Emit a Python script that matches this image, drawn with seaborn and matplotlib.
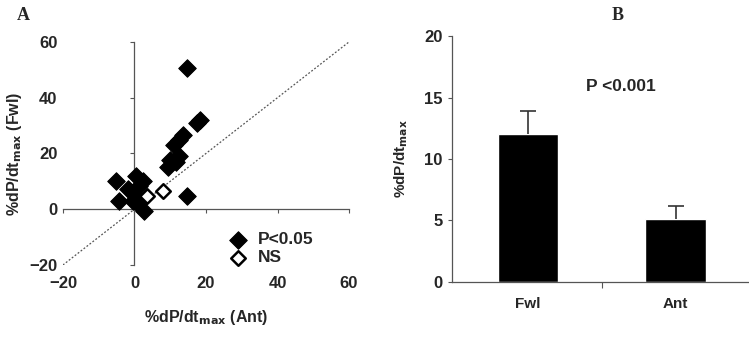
import matplotlib
matplotlib.use("Agg")
import matplotlib.pyplot as plt
import seaborn as sns
import pandas as pd

# panel A: Ant vs Fwl, significant (filled) and not significant (open)
sig_ant = [14.7, 17.5, 18.2, 11.0, 12.5, 13.5, 9.5, 10.0, 11.5, 12.5, 14.6,
           -5.1, -4.2, 0.5, 2.3, -1.9, 0.0, -0.5, 0.9, 2.8, 1.2]
sig_fwl = [50.5, 31.0, 32.0, 23.0, 25.0, 26.5, 15.0, 17.5, 17.0, 19.0, 4.8,
           10.0, 3.0, 11.9, 10.1, 7.1, 5.4, 3.0, 1.8, -0.6, 8.5]
ns_ant = [7.9, 3.5]
ns_fwl = [6.6, 4.8]

# panel B: group means with upper error
groups = ["Fwl", "Ant"]
means = [12.0, 5.1]
errs = [1.9, 1.1]

sns.set_style("white")
plt.rcParams["font.family"] = ["Liberation Sans", "DejaVu Sans"]
plt.rcParams["font.weight"] = "bold"
plt.rcParams["mathtext.default"] = "bf"

fig = plt.figure(figsize=(7.49, 3.38), dpi=100)

# ---- panel A ----
ax = fig.add_axes([0.084, 0.216, 0.382, 0.66])
df_sig = pd.DataFrame({"ant": sig_ant, "fwl": sig_fwl})
df_ns = pd.DataFrame({"ant": ns_ant, "fwl": ns_fwl})
ax.plot([-20, 60], [-20, 60], ls=(0, (1.5, 1.5)), color="#555555", lw=0.9, zorder=1)
sns.scatterplot(data=df_sig, x="ant", y="fwl", marker="D", s=80, color="black",
                edgecolor="black", ax=ax, zorder=3, label="P<0.05")
sns.scatterplot(data=df_ns, x="ant", y="fwl", marker="D", s=55, color="white",
                edgecolor="black", linewidth=1.8, ax=ax, zorder=3, label="NS")
ax.set_xlim(-20, 60)
ax.set_ylim(-20, 60)
ax.set_xticks([-20, 0, 20, 40, 60])
ax.set_yticks([-20, 0, 20, 40, 60])
ax.spines["left"].set_position(("data", 0))
ax.spines["bottom"].set_position(("data", 0))
ax.spines["top"].set_visible(False)
ax.spines["right"].set_visible(False)
for s in ["left", "bottom"]:
    ax.spines[s].set_color("#555555")
    ax.spines[s].set_linewidth(0.9)
ax.tick_params(axis="both", direction="out", length=3, width=0.8,
               color="#555555", labelleft=False, labelbottom=False,
               left=True, bottom=True)
ax.set_xlabel("")
ax.set_ylabel("")
leg = ax.legend(loc="lower right", bbox_to_anchor=(0.905, -0.04), frameon=False,
                handletextpad=0.1, labelspacing=0.15, borderpad=0,
                prop={"size": 12.5, "weight": "bold"})

# tick labels sit at the frame edge
lab = fig.add_axes(ax.get_position(), frameon=False)
lab.set_xlim(-20, 60)
lab.set_ylim(-20, 60)
lab.set_xticks([-20, 0, 20, 40, 60])
lab.set_yticks([-20, 0, 20, 40, 60])
lab.tick_params(length=0, labelsize=12, pad=8)
lab.tick_params(axis="y", pad=4)
for t in lab.get_xticklabels() + lab.get_yticklabels():
    t.set_fontweight("bold")
lab.set_xlabel("%dP/dt$_{max}$ (Ant)", fontsize=11.5, fontweight="bold", labelpad=12)
lab.set_ylabel("%dP/dt$_{max}$ (Fwl)", fontsize=11.5, fontweight="bold", labelpad=4)
lab.patch.set_alpha(0)

fig.text(0.022, 0.955, "A", family="Liberation Serif", fontsize=13,
         fontweight="bold", ha="left", va="center")

# ---- panel B ----
bx = fig.add_axes([0.603, 0.166, 0.396, 0.727])
df_b = pd.DataFrame({"group": groups, "mean": means})
sns.barplot(data=df_b, x="group", y="mean", color="black", width=0.41,
            errorbar=None, ax=bx, saturation=1)
# upper-only error bars
xpos = range(len(groups))
tops = [m + e for m, e in zip(means, errs)]
bx.vlines(xpos, means, tops, color="#333333", lw=1.2, zorder=1)
bx.hlines(tops, [x - 0.055 for x in xpos], [x + 0.055 for x in xpos],
          color="#333333", lw=1.2, zorder=1)
bx.set_xlim(-0.515, 1.49)
bx.set_ylim(0, 20)
bx.set_yticks([0, 5, 10, 15, 20])
bx.set_xticks([0.5], minor=True)
bx.tick_params(axis="x", which="major", length=0, labelsize=11, pad=11)
bx.tick_params(axis="x", which="minor", length=4, width=0.8, color="#555555",
               direction="out", bottom=True)
bx.tick_params(axis="y", length=3, width=0.8, color="#555555", direction="out",
               labelsize=12, left=True)
for t in bx.get_xticklabels() + bx.get_yticklabels():
    t.set_fontweight("bold")
bx.spines["top"].set_visible(False)
bx.spines["right"].set_visible(False)
for s in ["left", "bottom"]:
    bx.spines[s].set_color("#555555")
    bx.spines[s].set_linewidth(0.9)
bx.set_xlabel("")
bx.set_ylabel("%dP/dt$_{max}$", fontsize=11, fontweight="bold", labelpad=10)
bx.text(0.63, 15.9, "P <0.001", fontsize=12.5, ha="center", va="center")

fig.text(0.824, 0.955, "B", family="Liberation Serif", fontsize=13,
         fontweight="bold", ha="center", va="center")

fig.savefig("out.png", dpi=100)
